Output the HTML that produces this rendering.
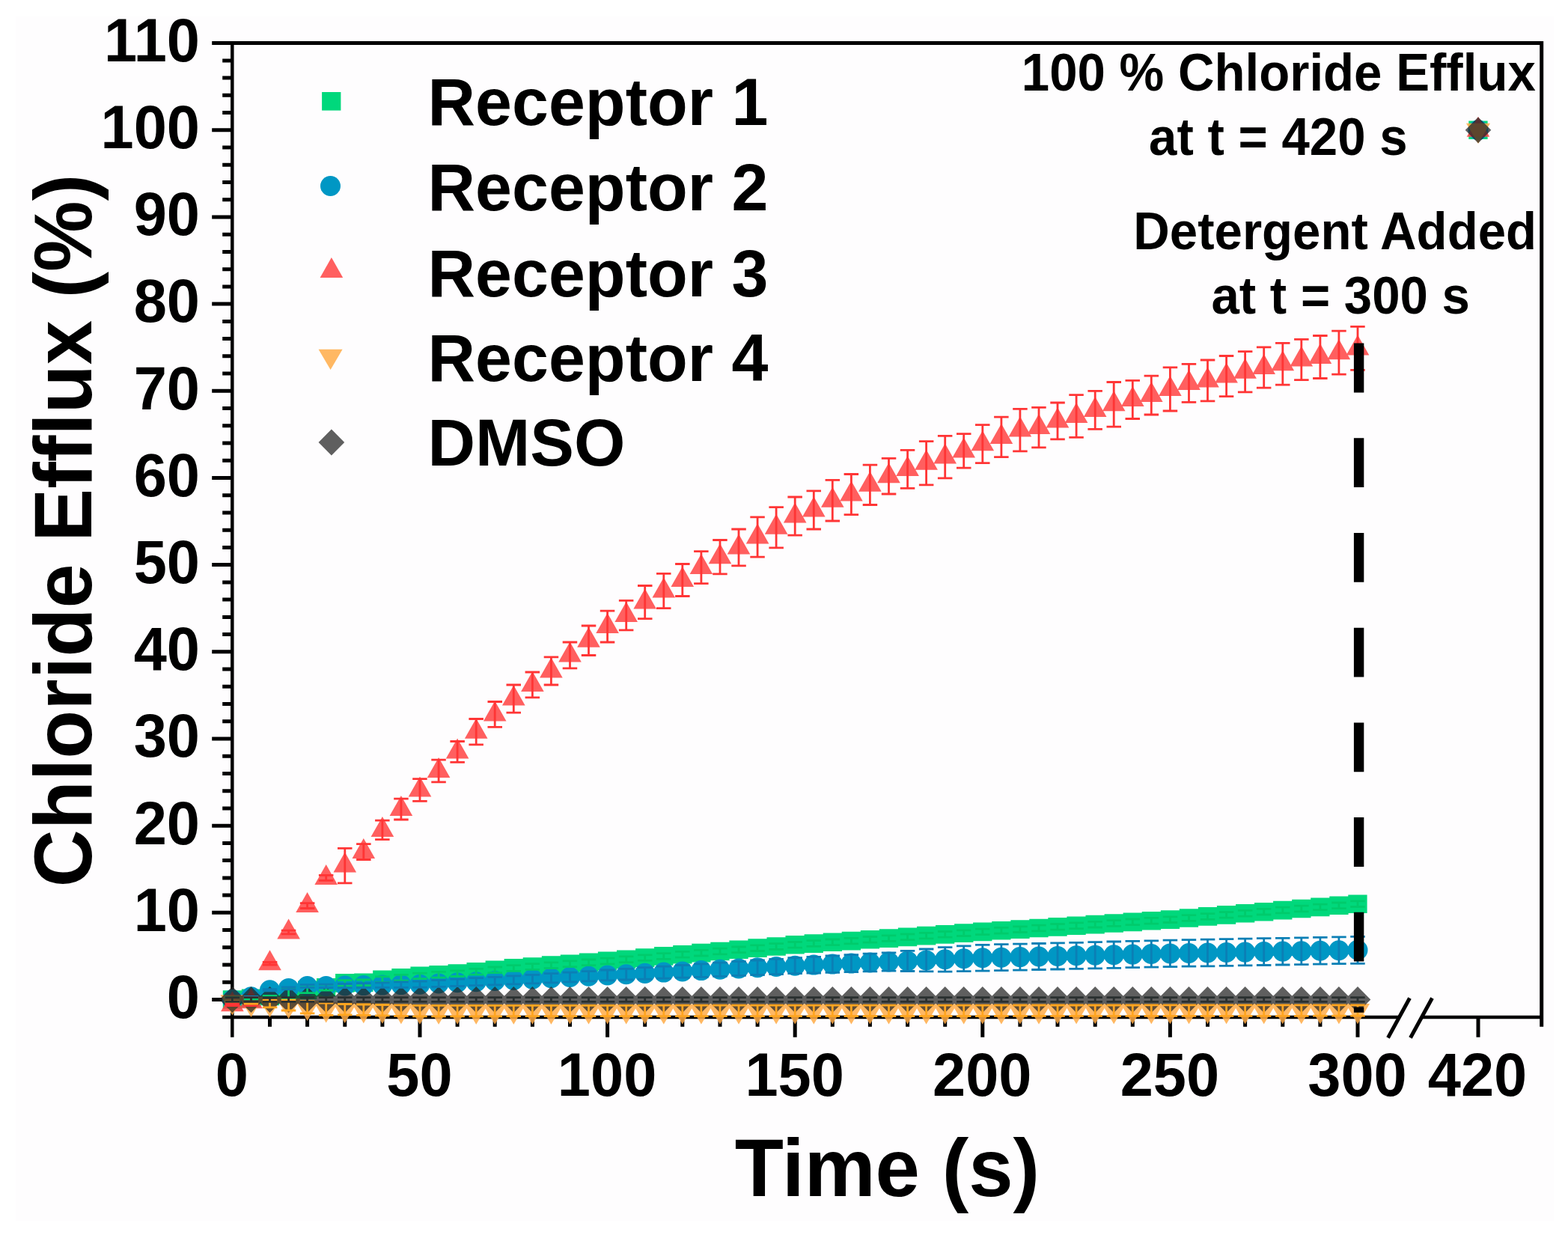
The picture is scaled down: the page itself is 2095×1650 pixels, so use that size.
<!DOCTYPE html>
<html lang="en">
<head>
<meta charset="utf-8">
<title>Chloride Efflux</title>
<style>
html,body{margin:0;padding:0;background:#fff;}
body{width:2095px;height:1650px;overflow:hidden;}
svg{display:block;filter:blur(0.6px);}
</style>
</head>
<body>
<svg width="2095" height="1650" viewBox="0 0 2095 1650" role="img" aria-label="Chloride efflux versus time">
<rect width="2095" height="1650" fill="#fff"/>
<rect x="21" y="22" width="2055" height="1609" fill="#fefdfe"/>
<path d="M283.2 57.6H2062.2M2059.7 57.6V1371.8M283.2 1335.5H310.4M297.2 1312.3H310.4M297.2 1289H310.4M297.2 1265.8H310.4M297.2 1242.6H310.4M283.2 1219.3H310.4M297.2 1196.1H310.4M297.2 1172.9H310.4M297.2 1149.6H310.4M297.2 1126.4H310.4M283.2 1103.2H310.4M297.2 1079.9H310.4M297.2 1056.7H310.4M297.2 1033.5H310.4M297.2 1010.2H310.4M283.2 987H310.4M297.2 963.8H310.4M297.2 940.5H310.4M297.2 917.3H310.4M297.2 894.1H310.4M283.2 870.8H310.4M297.2 847.6H310.4M297.2 824.4H310.4M297.2 801.1H310.4M297.2 777.9H310.4M283.2 754.6H310.4M297.2 731.4H310.4M297.2 708.2H310.4M297.2 684.9H310.4M297.2 661.7H310.4M283.2 638.5H310.4M297.2 615.2H310.4M297.2 592H310.4M297.2 568.8H310.4M297.2 545.5H310.4M283.2 522.3H310.4M297.2 499.1H310.4M297.2 475.8H310.4M297.2 452.6H310.4M297.2 429.4H310.4M283.2 406.1H310.4M297.2 382.9H310.4M297.2 359.7H310.4M297.2 336.4H310.4M297.2 313.2H310.4M283.2 290H310.4M297.2 266.7H310.4M297.2 243.5H310.4M297.2 220.3H310.4M297.2 197H310.4M283.2 173.8H310.4M297.2 150.6H310.4M297.2 127.3H310.4M297.2 104.1H310.4M297.2 80.9H310.4M360.5 1358.7V1371.8M410.6 1358.7V1371.8M460.8 1358.7V1371.8M510.9 1358.7V1371.8M561 1358.7V1385.8M611.1 1358.7V1371.8M661.2 1358.7V1371.8M711.4 1358.7V1371.8M761.5 1358.7V1371.8M811.6 1358.7V1385.8M861.7 1358.7V1371.8M911.8 1358.7V1371.8M962 1358.7V1371.8M1012.1 1358.7V1371.8M1062.2 1358.7V1385.8M1112.3 1358.7V1371.8M1162.4 1358.7V1371.8M1212.6 1358.7V1371.8M1262.7 1358.7V1371.8M1312.8 1358.7V1385.8M1362.9 1358.7V1371.8M1413 1358.7V1371.8M1463.2 1358.7V1371.8M1513.3 1358.7V1371.8M1563.4 1358.7V1385.8M1613.5 1358.7V1371.8M1663.6 1358.7V1371.8M1713.8 1358.7V1371.8M1763.9 1358.7V1371.8M1814 1358.7V1385.8M1975 1358.7V1385.8M1854.5 1386.5L1883.5 1333.5M1884.5 1386.5L1913.5 1333.5" fill="none" stroke="#000" stroke-width="5" stroke-linecap="butt"/>
<path d="M310.3 57.6V1385.8M297.2 1358.9H1869M1899 1358.9H2059.7" fill="none" stroke="#000" stroke-width="4.5"/>
<g>
<path d="M297.8 1323.2h25.3v24.6h-25.3zM322.8 1321.5h25.3v24.6h-25.3zM347.9 1318.6h25.3v24.6h-25.3zM372.9 1314.5h25.3v24.6h-25.3zM398 1310.4h25.3v24.6h-25.3zM423 1306.9h25.3v24.6h-25.3zM448.1 1301.1h25.3v24.6h-25.3zM473.2 1300.5h25.3v24.6h-25.3zM498.2 1296.4h25.3v24.6h-25.3zM523.3 1294h25.3v24.6h-25.3zM548.4 1291.6h25.3v24.6h-25.3zM573.4 1290h25.3v24.6h-25.3zM598.5 1288.3h25.3v24.6h-25.3zM623.5 1285.9h25.3v24.6h-25.3zM648.6 1283.5h25.3v24.6h-25.3zM673.6 1281.1h25.3v24.6h-25.3zM698.7 1279.2h25.3v24.6h-25.3zM723.8 1277.3h25.3v24.6h-25.3zM748.8 1275.4h25.3v24.6h-25.3zM773.9 1273.5h25.3v24.6h-25.3zM798.9 1271.6h25.3v24.6h-25.3zM824 1269.5h25.3v24.6h-25.3zM849.1 1267.3h25.3v24.6h-25.3zM874.1 1265.1h25.3v24.6h-25.3zM899.2 1263h25.3v24.6h-25.3zM924.2 1260.8h25.3v24.6h-25.3zM949.3 1258.7h25.3v24.6h-25.3zM974.4 1256.5h25.3v24.6h-25.3zM999.4 1254.3h25.3v24.6h-25.3zM1024.5 1252.2h25.3v24.6h-25.3zM1049.5 1250h25.3v24.6h-25.3zM1074.6 1248.3h25.3v24.6h-25.3zM1099.7 1246.5h25.3v24.6h-25.3zM1124.7 1244.8h25.3v24.6h-25.3zM1149.8 1243h25.3v24.6h-25.3zM1174.8 1241.3h25.3v24.6h-25.3zM1199.9 1239.6h25.3v24.6h-25.3zM1225 1237.8h25.3v24.6h-25.3zM1250 1236.1h25.3v24.6h-25.3zM1275.1 1234.3h25.3v24.6h-25.3zM1300.1 1232.6h25.3v24.6h-25.3zM1325.2 1231h25.3v24.6h-25.3zM1350.3 1229.3h25.3v24.6h-25.3zM1375.3 1227.7h25.3v24.6h-25.3zM1400.4 1226.1h25.3v24.6h-25.3zM1425.4 1224.5h25.3v24.6h-25.3zM1450.5 1222.8h25.3v24.6h-25.3zM1475.6 1221.2h25.3v24.6h-25.3zM1500.6 1219.6h25.3v24.6h-25.3zM1525.7 1217.9h25.3v24.6h-25.3zM1550.8 1216.3h25.3v24.6h-25.3zM1575.8 1214.2h25.3v24.6h-25.3zM1600.9 1212.1h25.3v24.6h-25.3zM1625.9 1210.1h25.3v24.6h-25.3zM1651 1208h25.3v24.6h-25.3zM1676 1205.9h25.3v24.6h-25.3zM1701.1 1203.8h25.3v24.6h-25.3zM1726.2 1201.7h25.3v24.6h-25.3zM1751.2 1199.6h25.3v24.6h-25.3zM1776.3 1197.5h25.3v24.6h-25.3zM1801.3 1195.4h25.3v24.6h-25.3zM1962.3 161.5h25.3v24.6h-25.3z" fill="#00d87c" fill-rule="nonzero" fill-opacity="1"/>
<path d="M296.9 1335.5a13.5 13.5 0 1 0 27 0a13.5 13.5 0 1 0 -27 0zM322 1331.7a13.5 13.5 0 1 0 27 0a13.5 13.5 0 1 0 -27 0zM347 1322.7a13.5 13.5 0 1 0 27 0a13.5 13.5 0 1 0 -27 0zM372.1 1320.4a13.5 13.5 0 1 0 27 0a13.5 13.5 0 1 0 -27 0zM397.1 1317.5a13.5 13.5 0 1 0 27 0a13.5 13.5 0 1 0 -27 0zM422.2 1317.5a13.5 13.5 0 1 0 27 0a13.5 13.5 0 1 0 -27 0zM447.3 1317a13.5 13.5 0 1 0 27 0a13.5 13.5 0 1 0 -27 0zM472.3 1316.6a13.5 13.5 0 1 0 27 0a13.5 13.5 0 1 0 -27 0zM497.4 1316.1a13.5 13.5 0 1 0 27 0a13.5 13.5 0 1 0 -27 0zM522.4 1315.6a13.5 13.5 0 1 0 27 0a13.5 13.5 0 1 0 -27 0zM547.5 1315.2a13.5 13.5 0 1 0 27 0a13.5 13.5 0 1 0 -27 0zM572.6 1314a13.5 13.5 0 1 0 27 0a13.5 13.5 0 1 0 -27 0zM597.6 1312.8a13.5 13.5 0 1 0 27 0a13.5 13.5 0 1 0 -27 0zM622.7 1311.7a13.5 13.5 0 1 0 27 0a13.5 13.5 0 1 0 -27 0zM647.7 1310.5a13.5 13.5 0 1 0 27 0a13.5 13.5 0 1 0 -27 0zM672.8 1309.4a13.5 13.5 0 1 0 27 0a13.5 13.5 0 1 0 -27 0zM697.9 1308.1a13.5 13.5 0 1 0 27 0a13.5 13.5 0 1 0 -27 0zM722.9 1306.8a13.5 13.5 0 1 0 27 0a13.5 13.5 0 1 0 -27 0zM748 1305.5a13.5 13.5 0 1 0 27 0a13.5 13.5 0 1 0 -27 0zM773 1304.3a13.5 13.5 0 1 0 27 0a13.5 13.5 0 1 0 -27 0zM798.1 1303a13.5 13.5 0 1 0 27 0a13.5 13.5 0 1 0 -27 0zM823.2 1301.7a13.5 13.5 0 1 0 27 0a13.5 13.5 0 1 0 -27 0zM848.2 1300.4a13.5 13.5 0 1 0 27 0a13.5 13.5 0 1 0 -27 0zM873.3 1299.1a13.5 13.5 0 1 0 27 0a13.5 13.5 0 1 0 -27 0zM898.3 1297.9a13.5 13.5 0 1 0 27 0a13.5 13.5 0 1 0 -27 0zM923.4 1296.6a13.5 13.5 0 1 0 27 0a13.5 13.5 0 1 0 -27 0zM948.5 1295.3a13.5 13.5 0 1 0 27 0a13.5 13.5 0 1 0 -27 0zM973.5 1294a13.5 13.5 0 1 0 27 0a13.5 13.5 0 1 0 -27 0zM998.6 1292.7a13.5 13.5 0 1 0 27 0a13.5 13.5 0 1 0 -27 0zM1023.6 1291.5a13.5 13.5 0 1 0 27 0a13.5 13.5 0 1 0 -27 0zM1048.7 1290.2a13.5 13.5 0 1 0 27 0a13.5 13.5 0 1 0 -27 0zM1073.8 1289.1a13.5 13.5 0 1 0 27 0a13.5 13.5 0 1 0 -27 0zM1098.8 1288.1a13.5 13.5 0 1 0 27 0a13.5 13.5 0 1 0 -27 0zM1123.9 1287.1a13.5 13.5 0 1 0 27 0a13.5 13.5 0 1 0 -27 0zM1148.9 1286a13.5 13.5 0 1 0 27 0a13.5 13.5 0 1 0 -27 0zM1174 1285a13.5 13.5 0 1 0 27 0a13.5 13.5 0 1 0 -27 0zM1199.1 1283.9a13.5 13.5 0 1 0 27 0a13.5 13.5 0 1 0 -27 0zM1224.1 1282.9a13.5 13.5 0 1 0 27 0a13.5 13.5 0 1 0 -27 0zM1249.2 1281.8a13.5 13.5 0 1 0 27 0a13.5 13.5 0 1 0 -27 0zM1274.2 1280.8a13.5 13.5 0 1 0 27 0a13.5 13.5 0 1 0 -27 0zM1299.3 1279.7a13.5 13.5 0 1 0 27 0a13.5 13.5 0 1 0 -27 0zM1324.4 1279.2a13.5 13.5 0 1 0 27 0a13.5 13.5 0 1 0 -27 0zM1349.4 1278.6a13.5 13.5 0 1 0 27 0a13.5 13.5 0 1 0 -27 0zM1374.5 1278a13.5 13.5 0 1 0 27 0a13.5 13.5 0 1 0 -27 0zM1399.5 1277.4a13.5 13.5 0 1 0 27 0a13.5 13.5 0 1 0 -27 0zM1424.6 1276.8a13.5 13.5 0 1 0 27 0a13.5 13.5 0 1 0 -27 0zM1449.7 1276.3a13.5 13.5 0 1 0 27 0a13.5 13.5 0 1 0 -27 0zM1474.7 1275.7a13.5 13.5 0 1 0 27 0a13.5 13.5 0 1 0 -27 0zM1499.8 1275.1a13.5 13.5 0 1 0 27 0a13.5 13.5 0 1 0 -27 0zM1524.8 1274.5a13.5 13.5 0 1 0 27 0a13.5 13.5 0 1 0 -27 0zM1549.9 1273.9a13.5 13.5 0 1 0 27 0a13.5 13.5 0 1 0 -27 0zM1575 1273.5a13.5 13.5 0 1 0 27 0a13.5 13.5 0 1 0 -27 0zM1600 1273a13.5 13.5 0 1 0 27 0a13.5 13.5 0 1 0 -27 0zM1625.1 1272.5a13.5 13.5 0 1 0 27 0a13.5 13.5 0 1 0 -27 0zM1650.1 1272.1a13.5 13.5 0 1 0 27 0a13.5 13.5 0 1 0 -27 0zM1675.2 1271.6a13.5 13.5 0 1 0 27 0a13.5 13.5 0 1 0 -27 0zM1700.3 1271.1a13.5 13.5 0 1 0 27 0a13.5 13.5 0 1 0 -27 0zM1725.3 1270.7a13.5 13.5 0 1 0 27 0a13.5 13.5 0 1 0 -27 0zM1750.4 1270.2a13.5 13.5 0 1 0 27 0a13.5 13.5 0 1 0 -27 0zM1775.4 1269.7a13.5 13.5 0 1 0 27 0a13.5 13.5 0 1 0 -27 0zM1800.5 1269.3a13.5 13.5 0 1 0 27 0a13.5 13.5 0 1 0 -27 0zM1961.5 173.8a13.5 13.5 0 1 0 27 0a13.5 13.5 0 1 0 -27 0z" fill="#0097c4" fill-rule="nonzero" fill-opacity="1"/>
<path d="M310.4 1324.3L325.7 1351.3L295.1 1351.3zM335.5 1320.2L350.8 1347.2L320.2 1347.2zM360.5 1269.3L375.8 1296.3L345.2 1296.3zM385.6 1227.5L400.9 1254.5L370.3 1254.5zM410.6 1192L425.9 1219L395.3 1219zM435.7 1154.9L451 1181.9L420.4 1181.9zM460.8 1138.6L476.1 1165.6L445.5 1165.6zM485.8 1120L501.1 1147L470.5 1147zM510.9 1091L526.2 1118L495.6 1118zM535.9 1063.1L551.2 1090.1L520.6 1090.1zM561 1037.5L576.3 1064.5L545.7 1064.5zM586.1 1012L601.4 1039L570.8 1039zM611.1 986.4L626.4 1013.4L595.8 1013.4zM636.2 959.7L651.5 986.7L620.9 986.7zM661.2 936.5L676.5 963.5L645.9 963.5zM686.3 915.6L701.6 942.6L671 942.6zM711.4 897L726.7 924L696.1 924zM736.4 878.4L751.7 905.4L721.1 905.4zM761.5 857.5L776.8 884.5L746.2 884.5zM786.5 837.7L801.8 864.7L771.2 864.7zM811.6 819.1L826.9 846.1L796.3 846.1zM836.7 804L852 831L821.4 831zM861.7 786.6L877 813.6L846.4 813.6zM886.8 771.5L902.1 798.5L871.5 798.5zM911.8 757L927.1 784L896.5 784zM936.9 740.1L952.2 767.1L921.6 767.1zM962 726.2L977.3 753.2L946.7 753.2zM987 713.4L1002.3 740.4L971.7 740.4zM1012.1 699.5L1027.4 726.5L996.8 726.5zM1037.1 686.7L1052.4 713.7L1021.8 713.7zM1062.2 671.6L1077.5 698.6L1046.9 698.6zM1087.3 663.5L1102.6 690.5L1072 690.5zM1112.3 650.7L1127.6 677.7L1097 677.7zM1137.4 642.6L1152.7 669.6L1122.1 669.6zM1162.4 629.8L1177.7 656.8L1147.1 656.8zM1187.5 618.2L1202.8 645.2L1172.2 645.2zM1212.6 608.9L1227.9 635.9L1197.3 635.9zM1237.6 600.7L1252.9 627.7L1222.3 627.7zM1262.7 592.6L1278 619.6L1247.4 619.6zM1287.7 584.5L1303 611.5L1272.4 611.5zM1312.8 575.2L1328.1 602.2L1297.5 602.2zM1337.9 565.9L1353.2 592.9L1322.6 592.9zM1362.9 556.6L1378.2 583.6L1347.6 583.6zM1388 553.1L1403.3 580.1L1372.7 580.1zM1413 544.4L1428.3 571.4L1397.7 571.4zM1438.1 538L1453.4 565L1422.8 565zM1463.2 529.9L1478.5 556.9L1447.9 556.9zM1488.2 522.3L1503.5 549.3L1472.9 549.3zM1513.3 515.9L1528.6 542.9L1498 542.9zM1538.3 510.1L1553.6 537.1L1523 537.1zM1563.4 502L1578.7 529L1548.1 529zM1588.5 493.9L1603.8 520.9L1573.2 520.9zM1613.5 490.4L1628.8 517.4L1598.2 517.4zM1638.6 484.6L1653.9 511.6L1623.3 511.6zM1663.6 478.8L1678.9 505.8L1648.3 505.8zM1688.7 472.9L1704 499.9L1673.4 499.9zM1713.8 468.3L1729.1 495.3L1698.5 495.3zM1738.8 462.5L1754.1 489.5L1723.5 489.5zM1763.9 459L1779.2 486L1748.6 486zM1788.9 453.2L1804.2 480.2L1773.6 480.2zM1814 447.4L1829.3 474.4L1798.7 474.4zM1975 155.8L1990.3 182.8L1959.7 182.8z" fill="#ff4343" fill-rule="nonzero" fill-opacity="0.85"/>
<path d="M310.4 1356.4L326.4 1329.2L294.4 1329.2zM335.5 1359L351.5 1331.8L319.5 1331.8zM360.5 1359.3L376.5 1332.1L344.5 1332.1zM385.6 1361.2L401.6 1334L369.6 1334zM410.6 1363.9L426.6 1336.7L394.6 1336.7zM435.7 1366.4L451.7 1339.2L419.7 1339.2zM460.8 1366.9L476.8 1339.7L444.8 1339.7zM485.8 1367.3L501.8 1340.1L469.8 1340.1zM510.9 1367.8L526.9 1340.6L494.9 1340.6zM535.9 1368.3L551.9 1341.1L519.9 1341.1zM561 1368.7L577 1341.5L545 1341.5zM586.1 1368.7L602.1 1341.5L570.1 1341.5zM611.1 1368.7L627.1 1341.5L595.1 1341.5zM636.2 1368.7L652.2 1341.5L620.2 1341.5zM661.2 1368.7L677.2 1341.5L645.2 1341.5zM686.3 1368.7L702.3 1341.5L670.3 1341.5zM711.4 1368.7L727.4 1341.5L695.4 1341.5zM736.4 1368.7L752.4 1341.5L720.4 1341.5zM761.5 1368.6L777.5 1341.4L745.5 1341.4zM786.5 1368.6L802.5 1341.4L770.5 1341.4zM811.6 1368.6L827.6 1341.4L795.6 1341.4zM836.7 1368.6L852.7 1341.4L820.7 1341.4zM861.7 1368.6L877.7 1341.4L845.7 1341.4zM886.8 1368.6L902.8 1341.4L870.8 1341.4zM911.8 1368.6L927.8 1341.4L895.8 1341.4zM936.9 1368.6L952.9 1341.4L920.9 1341.4zM962 1368.5L978 1341.3L946 1341.3zM987 1368.5L1003 1341.3L971 1341.3zM1012.1 1368.5L1028.1 1341.3L996.1 1341.3zM1037.1 1368.5L1053.1 1341.3L1021.1 1341.3zM1062.2 1368.5L1078.2 1341.3L1046.2 1341.3zM1087.3 1368.5L1103.3 1341.3L1071.3 1341.3zM1112.3 1368.5L1128.3 1341.3L1096.3 1341.3zM1137.4 1368.5L1153.4 1341.3L1121.4 1341.3zM1162.4 1368.5L1178.4 1341.3L1146.4 1341.3zM1187.5 1368.4L1203.5 1341.2L1171.5 1341.2zM1212.6 1368.4L1228.6 1341.2L1196.6 1341.2zM1237.6 1368.4L1253.6 1341.2L1221.6 1341.2zM1262.7 1368.4L1278.7 1341.2L1246.7 1341.2zM1287.7 1368.4L1303.7 1341.2L1271.7 1341.2zM1312.8 1368.4L1328.8 1341.2L1296.8 1341.2zM1337.9 1368.4L1353.9 1341.2L1321.9 1341.2zM1362.9 1368.4L1378.9 1341.2L1346.9 1341.2zM1388 1368.4L1404 1341.2L1372 1341.2zM1413 1368.3L1429 1341.1L1397 1341.1zM1438.1 1368.3L1454.1 1341.1L1422.1 1341.1zM1463.2 1368.3L1479.2 1341.1L1447.2 1341.1zM1488.2 1368.3L1504.2 1341.1L1472.2 1341.1zM1513.3 1368.3L1529.3 1341.1L1497.3 1341.1zM1538.3 1368.3L1554.3 1341.1L1522.3 1341.1zM1563.4 1368.3L1579.4 1341.1L1547.4 1341.1zM1588.5 1368.3L1604.5 1341.1L1572.5 1341.1zM1613.5 1368.2L1629.5 1341L1597.5 1341zM1638.6 1368.2L1654.6 1341L1622.6 1341zM1663.6 1368.2L1679.6 1341L1647.6 1341zM1688.7 1368.2L1704.7 1341L1672.7 1341zM1713.8 1368.2L1729.8 1341L1697.8 1341zM1738.8 1368.2L1754.8 1341L1722.8 1341zM1763.9 1368.2L1779.9 1341L1747.9 1341zM1788.9 1368.2L1804.9 1341L1772.9 1341zM1814 1368.2L1830 1341L1798 1341zM1975 191.9L1991 164.7L1959 164.7z" fill="#ffac48" fill-rule="nonzero" fill-opacity="0.85"/>
<path d="M310.4 1318.1L327.7 1335.5L310.4 1352.9L293.1 1335.5zM335.5 1318.1L352.8 1335.5L335.5 1352.9L318.2 1335.5zM360.5 1318.1L377.8 1335.5L360.5 1352.9L343.2 1335.5zM385.6 1318.1L402.9 1335.5L385.6 1352.9L368.3 1335.5zM410.6 1318.1L427.9 1335.5L410.6 1352.9L393.3 1335.5zM435.7 1318.1L453 1335.5L435.7 1352.9L418.4 1335.5zM460.8 1318.1L478.1 1335.5L460.8 1352.9L443.5 1335.5zM485.8 1318.1L503.1 1335.5L485.8 1352.9L468.5 1335.5zM510.9 1318.1L528.2 1335.5L510.9 1352.9L493.6 1335.5zM535.9 1318.1L553.2 1335.5L535.9 1352.9L518.6 1335.5zM561 1318.1L578.3 1335.5L561 1352.9L543.7 1335.5zM586.1 1318.1L603.4 1335.5L586.1 1352.9L568.8 1335.5zM611.1 1318.1L628.4 1335.5L611.1 1352.9L593.8 1335.5zM636.2 1318.1L653.5 1335.5L636.2 1352.9L618.9 1335.5zM661.2 1318.1L678.5 1335.5L661.2 1352.9L643.9 1335.5zM686.3 1318.1L703.6 1335.5L686.3 1352.9L669 1335.5zM711.4 1318.1L728.7 1335.5L711.4 1352.9L694.1 1335.5zM736.4 1318.1L753.7 1335.5L736.4 1352.9L719.1 1335.5zM761.5 1318.1L778.8 1335.5L761.5 1352.9L744.2 1335.5zM786.5 1318.1L803.8 1335.5L786.5 1352.9L769.2 1335.5zM811.6 1318.1L828.9 1335.5L811.6 1352.9L794.3 1335.5zM836.7 1318.1L854 1335.5L836.7 1352.9L819.4 1335.5zM861.7 1318.1L879 1335.5L861.7 1352.9L844.4 1335.5zM886.8 1318.1L904.1 1335.5L886.8 1352.9L869.5 1335.5zM911.8 1318.1L929.1 1335.5L911.8 1352.9L894.5 1335.5zM936.9 1318.1L954.2 1335.5L936.9 1352.9L919.6 1335.5zM962 1318.1L979.3 1335.5L962 1352.9L944.7 1335.5zM987 1318.1L1004.3 1335.5L987 1352.9L969.7 1335.5zM1012.1 1318.1L1029.4 1335.5L1012.1 1352.9L994.8 1335.5zM1037.1 1318.1L1054.4 1335.5L1037.1 1352.9L1019.8 1335.5zM1062.2 1318.1L1079.5 1335.5L1062.2 1352.9L1044.9 1335.5zM1087.3 1318.1L1104.6 1335.5L1087.3 1352.9L1070 1335.5zM1112.3 1318.1L1129.6 1335.5L1112.3 1352.9L1095 1335.5zM1137.4 1318.1L1154.7 1335.5L1137.4 1352.9L1120.1 1335.5zM1162.4 1318.1L1179.7 1335.5L1162.4 1352.9L1145.1 1335.5zM1187.5 1318.1L1204.8 1335.5L1187.5 1352.9L1170.2 1335.5zM1212.6 1318.1L1229.9 1335.5L1212.6 1352.9L1195.3 1335.5zM1237.6 1318.1L1254.9 1335.5L1237.6 1352.9L1220.3 1335.5zM1262.7 1318.1L1280 1335.5L1262.7 1352.9L1245.4 1335.5zM1287.7 1318.1L1305 1335.5L1287.7 1352.9L1270.4 1335.5zM1312.8 1318.1L1330.1 1335.5L1312.8 1352.9L1295.5 1335.5zM1337.9 1318.1L1355.2 1335.5L1337.9 1352.9L1320.6 1335.5zM1362.9 1318.1L1380.2 1335.5L1362.9 1352.9L1345.6 1335.5zM1388 1318.1L1405.3 1335.5L1388 1352.9L1370.7 1335.5zM1413 1318.1L1430.3 1335.5L1413 1352.9L1395.7 1335.5zM1438.1 1318.1L1455.4 1335.5L1438.1 1352.9L1420.8 1335.5zM1463.2 1318.1L1480.5 1335.5L1463.2 1352.9L1445.9 1335.5zM1488.2 1318.1L1505.5 1335.5L1488.2 1352.9L1470.9 1335.5zM1513.3 1318.1L1530.6 1335.5L1513.3 1352.9L1496 1335.5zM1538.3 1318.1L1555.6 1335.5L1538.3 1352.9L1521 1335.5zM1563.4 1318.1L1580.7 1335.5L1563.4 1352.9L1546.1 1335.5zM1588.5 1318.1L1605.8 1335.5L1588.5 1352.9L1571.2 1335.5zM1613.5 1318.1L1630.8 1335.5L1613.5 1352.9L1596.2 1335.5zM1638.6 1318.1L1655.9 1335.5L1638.6 1352.9L1621.3 1335.5zM1663.6 1318.1L1680.9 1335.5L1663.6 1352.9L1646.3 1335.5zM1688.7 1318.1L1706 1335.5L1688.7 1352.9L1671.4 1335.5zM1713.8 1318.1L1731.1 1335.5L1713.8 1352.9L1696.5 1335.5zM1738.8 1318.1L1756.1 1335.5L1738.8 1352.9L1721.5 1335.5zM1763.9 1318.1L1781.2 1335.5L1763.9 1352.9L1746.6 1335.5zM1788.9 1318.1L1806.2 1335.5L1788.9 1352.9L1771.6 1335.5zM1814 1318.1L1831.3 1335.5L1814 1352.9L1796.7 1335.5zM1975 156.4L1992.3 173.8L1975 191.2L1957.7 173.8z" fill="#232323" fill-rule="nonzero" fill-opacity="0.73"/>
<path d="M310.4 1332.7V1338.3M300.6 1332.7h19.5M300.6 1338.3h19.5M335.5 1332.6V1334.9M325.7 1332.6h19.5M325.7 1334.9h19.5M360.5 1330.3V1331.4M350.8 1330.3h19.5M350.8 1331.4h19.5M385.6 1319.8V1333.8M375.8 1319.8h19.5M375.8 1333.8h19.5M410.6 1318.9V1326.6M400.9 1318.9h19.5M400.9 1326.6h19.5M435.7 1315.4V1323.1M425.9 1315.4h19.5M425.9 1323.1h19.5M460.8 1309.6V1317.3M451 1309.6h19.5M451 1317.3h19.5M485.8 1309V1316.7M476.1 1309h19.5M476.1 1316.7h19.5M510.9 1304.8V1312.5M501.1 1304.8h19.5M501.1 1312.5h19.5M535.9 1302.4V1310.1M526.2 1302.4h19.5M526.2 1310.1h19.5M561 1300.1V1307.7M551.2 1300.1h19.5M551.2 1307.7h19.5M586.1 1298.4V1306.1M576.3 1298.4h19.5M576.3 1306.1h19.5M611.1 1296.8V1304.5M601.4 1296.8h19.5M601.4 1304.5h19.5M636.2 1294.4V1302.1M626.4 1294.4h19.5M626.4 1302.1h19.5M661.2 1292V1299.7M651.5 1292h19.5M651.5 1299.7h19.5M686.3 1289.6V1297.3M676.5 1289.6h19.5M676.5 1297.3h19.5M711.4 1287.7V1295.4M701.6 1287.7h19.5M701.6 1295.4h19.5M736.4 1285.8V1293.5M726.7 1285.8h19.5M726.7 1293.5h19.5M761.5 1283.9V1291.6M751.7 1283.9h19.5M751.7 1291.6h19.5M786.5 1282V1289.7M776.8 1282h19.5M776.8 1289.7h19.5M811.6 1280.1V1287.8M801.8 1280.1h19.5M801.8 1287.8h19.5M836.7 1277.9V1285.6M826.9 1277.9h19.5M826.9 1285.6h19.5M861.7 1275.8V1283.4M852 1275.8h19.5M852 1283.4h19.5M886.8 1273.6V1281.3M877 1273.6h19.5M877 1281.3h19.5M911.8 1271.4V1279.1M902.1 1271.4h19.5M902.1 1279.1h19.5M936.9 1269.3V1277M927.1 1269.3h19.5M927.1 1277h19.5M962 1267.1V1274.8M952.2 1267.1h19.5M952.2 1274.8h19.5M987 1265V1272.6M977.3 1265h19.5M977.3 1272.6h19.5M1012.1 1262.8V1270.5M1002.3 1262.8h19.5M1002.3 1270.5h19.5M1037.1 1260.6V1268.3M1027.4 1260.6h19.5M1027.4 1268.3h19.5M1062.2 1258.5V1266.1M1052.4 1258.5h19.5M1052.4 1266.1h19.5M1087.3 1256.7V1264.4M1077.5 1256.7h19.5M1077.5 1264.4h19.5M1112.3 1255V1262.7M1102.6 1255h19.5M1102.6 1262.7h19.5M1137.4 1253.3V1260.9M1127.6 1253.3h19.5M1127.6 1260.9h19.5M1162.4 1251.5V1259.2M1152.7 1251.5h19.5M1152.7 1259.2h19.5M1187.5 1249.8V1257.4M1177.8 1249.8h19.5M1177.8 1257.4h19.5M1212.6 1248V1255.7M1202.8 1248h19.5M1202.8 1255.7h19.5M1237.6 1246.3V1253.9M1227.9 1246.3h19.5M1227.9 1253.9h19.5M1262.7 1244.5V1252.2M1252.9 1244.5h19.5M1252.9 1252.2h19.5M1287.7 1242.8V1250.5M1278 1242.8h19.5M1278 1250.5h19.5M1312.8 1241.1V1248.7M1303 1241.1h19.5M1303 1248.7h19.5M1337.9 1239.4V1247.1M1328.1 1239.4h19.5M1328.1 1247.1h19.5M1362.9 1237.8V1245.5M1353.2 1237.8h19.5M1353.2 1245.5h19.5M1388 1236.2V1243.8M1378.2 1236.2h19.5M1378.2 1243.8h19.5M1413 1234.5V1242.2M1403.3 1234.5h19.5M1403.3 1242.2h19.5M1438.1 1232.9V1240.6M1428.3 1232.9h19.5M1428.3 1240.6h19.5M1463.2 1231.3V1239M1453.4 1231.3h19.5M1453.4 1239h19.5M1488.2 1229.7V1237.3M1478.5 1229.7h19.5M1478.5 1237.3h19.5M1513.3 1228V1235.7M1503.5 1228h19.5M1503.5 1235.7h19.5M1538.3 1226.4V1234.1M1528.6 1226.4h19.5M1528.6 1234.1h19.5M1563.4 1224.8V1232.5M1553.7 1224.8h19.5M1553.7 1232.5h19.5M1588.5 1222.7V1230.4M1578.7 1222.7h19.5M1578.7 1230.4h19.5M1613.5 1220.6V1228.3M1603.8 1220.6h19.5M1603.8 1228.3h19.5M1638.6 1218.5V1226.2M1628.8 1218.5h19.5M1628.8 1226.2h19.5M1663.6 1216.4V1224.1M1653.9 1216.4h19.5M1653.9 1224.1h19.5M1688.7 1214.3V1222M1678.9 1214.3h19.5M1678.9 1222h19.5M1713.8 1212.2V1219.9M1704 1212.2h19.5M1704 1219.9h19.5M1738.8 1210.2V1217.8M1729.1 1210.2h19.5M1729.1 1217.8h19.5M1763.9 1208.1V1215.7M1754.1 1208.1h19.5M1754.1 1215.7h19.5M1788.9 1206V1213.6M1779.2 1206h19.5M1779.2 1213.6h19.5M1814 1203.9V1211.5M1804.2 1203.9h19.5M1804.2 1211.5h19.5" fill="none" stroke="#00cb6c" stroke-width="2.8"/>
<path d="M335.5 1331.3V1332M325.7 1331.3h19.5M325.7 1332h19.5M360.5 1321.6V1323.9M350.8 1321.6h19.5M350.8 1323.9h19.5M385.6 1318.9V1321.9M375.8 1318.9h19.5M375.8 1321.9h19.5M410.6 1315.6V1319.4M400.9 1315.6h19.5M400.9 1319.4h19.5M435.7 1315.2V1319.7M425.9 1315.2h19.5M425.9 1319.7h19.5M460.8 1314.4V1319.6M451 1314.4h19.5M451 1319.6h19.5M485.8 1313.6V1319.5M476.1 1313.6h19.5M476.1 1319.5h19.5M510.9 1312.8V1319.4M501.1 1312.8h19.5M501.1 1319.4h19.5M535.9 1311.9V1319.3M526.2 1311.9h19.5M526.2 1319.3h19.5M561 1311.1V1319.2M551.2 1311.1h19.5M551.2 1319.2h19.5M586.1 1309.7V1318.4M576.3 1309.7h19.5M576.3 1318.4h19.5M611.1 1308.2V1317.5M601.4 1308.2h19.5M601.4 1317.5h19.5M636.2 1306.7V1316.6M626.4 1306.7h19.5M626.4 1316.6h19.5M661.2 1305.3V1315.8M651.5 1305.3h19.5M651.5 1315.8h19.5M686.3 1303.8V1314.9M676.5 1303.8h19.5M676.5 1314.9h19.5M711.4 1302.3V1313.9M701.6 1302.3h19.5M701.6 1313.9h19.5M736.4 1300.7V1312.9M726.7 1300.7h19.5M726.7 1312.9h19.5M761.5 1299.1V1311.9M751.7 1299.1h19.5M751.7 1311.9h19.5M786.5 1297.6V1310.9M776.8 1297.6h19.5M776.8 1310.9h19.5M811.6 1296V1309.9M801.8 1296h19.5M801.8 1309.9h19.5M836.7 1294.4V1309M826.9 1294.4h19.5M826.9 1309h19.5M861.7 1292.7V1308.1M852 1292.7h19.5M852 1308.1h19.5M886.8 1291.1V1307.2M877 1291.1h19.5M877 1307.2h19.5M911.8 1289.5V1306.2M902.1 1289.5h19.5M902.1 1306.2h19.5M936.9 1287.9V1305.3M927.1 1287.9h19.5M927.1 1305.3h19.5M962 1286.2V1304.4M952.2 1286.2h19.5M952.2 1304.4h19.5M987 1284.6V1303.4M977.3 1284.6h19.5M977.3 1303.4h19.5M1012.1 1283V1302.5M1002.3 1283h19.5M1002.3 1302.5h19.5M1037.1 1281.4V1301.6M1027.4 1281.4h19.5M1027.4 1301.6h19.5M1062.2 1279.7V1300.6M1052.4 1279.7h19.5M1052.4 1300.6h19.5M1087.3 1278.3V1300M1077.5 1278.3h19.5M1077.5 1300h19.5M1112.3 1277V1299.3M1102.6 1277h19.5M1102.6 1299.3h19.5M1137.4 1275.6V1298.6M1127.6 1275.6h19.5M1127.6 1298.6h19.5M1162.4 1274.2V1297.9M1152.7 1274.2h19.5M1152.7 1297.9h19.5M1187.5 1272.8V1297.2M1177.8 1272.8h19.5M1177.8 1297.2h19.5M1212.6 1270.4V1297.5M1202.8 1270.4h19.5M1202.8 1297.5h19.5M1237.6 1268V1297.8M1227.9 1268h19.5M1227.9 1297.8h19.5M1262.7 1265.6V1298.1M1252.9 1265.6h19.5M1252.9 1298.1h19.5M1287.7 1263.9V1297.6M1278 1263.9h19.5M1278 1297.6h19.5M1312.8 1262.3V1297.2M1303 1262.3h19.5M1303 1297.2h19.5M1337.9 1261.7V1296.6M1328.1 1261.7h19.5M1328.1 1296.6h19.5M1362.9 1261.1V1296.1M1353.2 1261.1h19.5M1353.2 1296.1h19.5M1388 1260.5V1295.5M1378.2 1260.5h19.5M1378.2 1295.5h19.5M1413 1259.9V1295M1403.3 1259.9h19.5M1403.3 1295h19.5M1438.1 1259.3V1294.4M1428.3 1259.3h19.5M1428.3 1294.4h19.5M1463.2 1258.7V1293.9M1453.4 1258.7h19.5M1453.4 1293.9h19.5M1488.2 1258V1293.3M1478.5 1258h19.5M1478.5 1293.3h19.5M1513.3 1257.4V1292.7M1503.5 1257.4h19.5M1503.5 1292.7h19.5M1538.3 1256.8V1292.2M1528.6 1256.8h19.5M1528.6 1292.2h19.5M1563.4 1256.2V1291.6M1553.7 1256.2h19.5M1553.7 1291.6h19.5M1588.5 1255.7V1291.2M1578.7 1255.7h19.5M1578.7 1291.2h19.5M1613.5 1255.2V1290.8M1603.8 1255.2h19.5M1603.8 1290.8h19.5M1638.6 1254.7V1290.3M1628.8 1254.7h19.5M1628.8 1290.3h19.5M1663.6 1254.2V1289.9M1653.9 1254.2h19.5M1653.9 1289.9h19.5M1688.7 1253.7V1289.5M1678.9 1253.7h19.5M1678.9 1289.5h19.5M1713.8 1253.3V1289M1704 1253.3h19.5M1704 1289h19.5M1738.8 1252.8V1288.6M1729.1 1252.8h19.5M1729.1 1288.6h19.5M1763.9 1252.3V1288.2M1754.1 1252.3h19.5M1754.1 1288.2h19.5M1788.9 1251.8V1287.7M1779.2 1251.8h19.5M1779.2 1287.7h19.5M1814 1251.3V1287.3M1804.2 1251.3h19.5M1804.2 1287.3h19.5" fill="none" stroke="#0b7fb5" stroke-width="2.8"/>
<path d="M310.4 1341V1343.6M300.6 1341h19.5M300.6 1343.6h19.5M335.5 1332.7V1343.6M325.7 1332.7h19.5M325.7 1343.6h19.5M360.5 1285.5V1289M350.8 1285.5h19.5M350.8 1289h19.5M385.6 1243.1V1247.8M375.8 1243.1h19.5M375.8 1247.8h19.5M410.6 1206.6V1213.5M400.9 1206.6h19.5M400.9 1213.5h19.5M435.7 1169.4V1176.3M425.9 1169.4h19.5M425.9 1176.3h19.5M460.8 1133.4V1179.8M451 1133.4h19.5M451 1179.8h19.5M485.8 1127.6V1148.5M476.1 1127.6h19.5M476.1 1148.5h19.5M510.9 1096.2V1121.7M501.1 1096.2h19.5M501.1 1121.7h19.5M535.9 1067.1V1095M526.2 1067.1h19.5M526.2 1095h19.5M561 1040.7V1070.4M551.2 1040.7h19.5M551.2 1070.4h19.5M586.1 1015.1V1044.8M576.3 1015.1h19.5M576.3 1044.8h19.5M611.1 990.5V1018.4M601.4 990.5h19.5M601.4 1018.4h19.5M636.2 960.5V994.9M626.4 960.5h19.5M626.4 994.9h19.5M661.2 937.5V971.4M651.5 937.5h19.5M651.5 971.4h19.5M686.3 915V952.1M676.5 915h19.5M676.5 952.1h19.5M711.4 898V931.9M701.6 898h19.5M701.6 931.9h19.5M736.4 877.8V915M726.7 877.8h19.5M726.7 915h19.5M761.5 858V892.9M751.7 858h19.5M751.7 892.9h19.5M786.5 836V875.5M776.8 836h19.5M776.8 875.5h19.5M811.6 816.2V858M801.8 816.2h19.5M801.8 858h19.5M836.7 802.3V841.8M826.9 802.3h19.5M826.9 841.8h19.5M861.7 782.5V826.7M852 782.5h19.5M852 826.7h19.5M886.8 766.3V812.7M877 766.3h19.5M877 812.7h19.5M911.8 753.5V796.5M902.1 753.5h19.5M902.1 796.5h19.5M936.9 736.6V779.6M927.1 736.6h19.5M927.1 779.6h19.5M962 721.5V766.8M952.2 721.5h19.5M952.2 766.8h19.5M987 707V755.8M977.3 707h19.5M977.3 755.8h19.5M1012.1 690.8V744.2M1002.3 690.8h19.5M1002.3 744.2h19.5M1037.1 677.6V731.8M1027.4 677.6h19.5M1027.4 731.8h19.5M1062.2 664V715.2M1052.4 664h19.5M1052.4 715.2h19.5M1087.3 655.9V707M1077.5 655.9h19.5M1077.5 707h19.5M1112.3 641.4V696M1102.6 641.4h19.5M1102.6 696h19.5M1137.4 633.5V687.6M1127.6 633.5h19.5M1127.6 687.6h19.5M1162.4 621.1V674.5M1152.7 621.1h19.5M1152.7 674.5h19.5M1187.5 612.3V660M1177.8 612.3h19.5M1177.8 660h19.5M1212.6 601.3V652.4M1202.8 601.3h19.5M1202.8 652.4h19.5M1237.6 589.7V647.8M1227.9 589.7h19.5M1227.9 647.8h19.5M1262.7 582.3V638.9M1252.9 582.3h19.5M1252.9 638.9h19.5M1287.7 579.7V625.2M1278 579.7h19.5M1278 625.2h19.5M1312.8 567.6V618.7M1303 567.6h19.5M1303 618.7h19.5M1337.9 557.2V610.6M1328.1 557.2h19.5M1328.1 610.6h19.5M1362.9 546.4V602.8M1353.2 546.4h19.5M1353.2 602.8h19.5M1388 544.4V597.8M1378.2 544.4h19.5M1378.2 597.8h19.5M1413 538V586.8M1403.3 538h19.5M1403.3 586.8h19.5M1438.1 527.7V584.3M1428.3 527.7h19.5M1428.3 584.3h19.5M1463.2 522.3V573.4M1453.4 522.3h19.5M1453.4 573.4h19.5M1488.2 510.5V570.2M1478.5 510.5h19.5M1478.5 570.2h19.5M1513.3 508.4V559.5M1503.5 508.4h19.5M1503.5 559.5h19.5M1538.3 502.2V554M1528.6 502.2h19.5M1528.6 554h19.5M1563.4 490.9V549M1553.7 490.9h19.5M1553.7 549h19.5M1588.5 486.3V537.4M1578.7 486.3h19.5M1578.7 537.4h19.5M1613.5 481V535.8M1603.8 481h19.5M1603.8 535.8h19.5M1638.6 475.5V529.6M1628.8 475.5h19.5M1628.8 529.6h19.5M1663.6 469.7V523.8M1653.9 469.7h19.5M1653.9 523.8h19.5M1688.7 463.8V518.1M1678.9 463.8h19.5M1678.9 518.1h19.5M1713.8 458.4V514.2M1704 458.4h19.5M1704 514.2h19.5M1738.8 453.3V507.7M1729.1 453.3h19.5M1729.1 507.7h19.5M1763.9 448.5V505.5M1754.1 448.5h19.5M1754.1 505.5h19.5M1788.9 442.2V500.2M1779.2 442.2h19.5M1779.2 500.2h19.5M1814 436.3V494.4M1804.2 436.3h19.5M1804.2 494.4h19.5" fill="none" stroke="#ff3535" stroke-width="2.8"/>
<path d="M310.4 1338.1V1338.5M300.6 1338.1h19.5M300.6 1338.5h19.5M335.5 1340.6V1341.1M325.7 1340.6h19.5M325.7 1341.1h19.5M360.5 1336.5V1345.8M350.8 1336.5h19.5M350.8 1345.8h19.5M385.6 1336.1V1350M375.8 1336.1h19.5M375.8 1350h19.5M410.6 1337.6V1353.9M400.9 1337.6h19.5M400.9 1353.9h19.5M435.7 1340.1V1356.4M425.9 1340.1h19.5M425.9 1356.4h19.5M460.8 1341.5V1355.9M451 1341.5h19.5M451 1355.9h19.5M485.8 1342V1356.4M476.1 1342h19.5M476.1 1356.4h19.5M510.9 1342.5V1356.9M501.1 1342.5h19.5M501.1 1356.9h19.5M535.9 1342.9V1357.3M526.2 1342.9h19.5M526.2 1357.3h19.5M561 1343.4V1357.8M551.2 1343.4h19.5M551.2 1357.8h19.5M586.1 1343.4V1357.8M576.3 1343.4h19.5M576.3 1357.8h19.5M611.1 1343.4V1357.8M601.4 1343.4h19.5M601.4 1357.8h19.5M636.2 1343.4V1357.8M626.4 1343.4h19.5M626.4 1357.8h19.5M661.2 1343.4V1357.8M651.5 1343.4h19.5M651.5 1357.8h19.5M686.3 1343.3V1357.7M676.5 1343.3h19.5M676.5 1357.7h19.5M711.4 1343.3V1357.7M701.6 1343.3h19.5M701.6 1357.7h19.5M736.4 1343.3V1357.7M726.7 1343.3h19.5M726.7 1357.7h19.5M761.5 1343.3V1357.7M751.7 1343.3h19.5M751.7 1357.7h19.5M786.5 1343.3V1357.7M776.8 1343.3h19.5M776.8 1357.7h19.5M811.6 1343.3V1357.7M801.8 1343.3h19.5M801.8 1357.7h19.5M836.7 1343.3V1357.7M826.9 1343.3h19.5M826.9 1357.7h19.5M861.7 1343.3V1357.7M852 1343.3h19.5M852 1357.7h19.5M886.8 1343.2V1357.7M877 1343.2h19.5M877 1357.7h19.5M911.8 1343.2V1357.6M902.1 1343.2h19.5M902.1 1357.6h19.5M936.9 1343.2V1357.6M927.1 1343.2h19.5M927.1 1357.6h19.5M962 1343.2V1357.6M952.2 1343.2h19.5M952.2 1357.6h19.5M987 1343.2V1357.6M977.3 1343.2h19.5M977.3 1357.6h19.5M1012.1 1343.2V1357.6M1002.3 1343.2h19.5M1002.3 1357.6h19.5M1037.1 1343.2V1357.6M1027.4 1343.2h19.5M1027.4 1357.6h19.5M1062.2 1343.2V1357.6M1052.4 1343.2h19.5M1052.4 1357.6h19.5M1087.3 1343.2V1357.6M1077.5 1343.2h19.5M1077.5 1357.6h19.5M1112.3 1343.1V1357.5M1102.6 1343.1h19.5M1102.6 1357.5h19.5M1137.4 1343.1V1357.5M1127.6 1343.1h19.5M1127.6 1357.5h19.5M1162.4 1343.1V1357.5M1152.7 1343.1h19.5M1152.7 1357.5h19.5M1187.5 1343.1V1357.5M1177.8 1343.1h19.5M1177.8 1357.5h19.5M1212.6 1343.1V1357.5M1202.8 1343.1h19.5M1202.8 1357.5h19.5M1237.6 1343.1V1357.5M1227.9 1343.1h19.5M1227.9 1357.5h19.5M1262.7 1343.1V1357.5M1252.9 1343.1h19.5M1252.9 1357.5h19.5M1287.7 1343.1V1357.5M1278 1343.1h19.5M1278 1357.5h19.5M1312.8 1343.1V1357.5M1303 1343.1h19.5M1303 1357.5h19.5M1337.9 1343V1357.4M1328.1 1343h19.5M1328.1 1357.4h19.5M1362.9 1343V1357.4M1353.2 1343h19.5M1353.2 1357.4h19.5M1388 1343V1357.4M1378.2 1343h19.5M1378.2 1357.4h19.5M1413 1343V1357.4M1403.3 1343h19.5M1403.3 1357.4h19.5M1438.1 1343V1357.4M1428.3 1343h19.5M1428.3 1357.4h19.5M1463.2 1343V1357.4M1453.4 1343h19.5M1453.4 1357.4h19.5M1488.2 1343V1357.4M1478.5 1343h19.5M1478.5 1357.4h19.5M1513.3 1343V1357.4M1503.5 1343h19.5M1503.5 1357.4h19.5M1538.3 1342.9V1357.4M1528.6 1342.9h19.5M1528.6 1357.4h19.5M1563.4 1342.9V1357.3M1553.7 1342.9h19.5M1553.7 1357.3h19.5M1588.5 1342.9V1357.3M1578.7 1342.9h19.5M1578.7 1357.3h19.5M1613.5 1342.9V1357.3M1603.8 1342.9h19.5M1603.8 1357.3h19.5M1638.6 1342.9V1357.3M1628.8 1342.9h19.5M1628.8 1357.3h19.5M1663.6 1342.9V1357.3M1653.9 1342.9h19.5M1653.9 1357.3h19.5M1688.7 1342.9V1357.3M1678.9 1342.9h19.5M1678.9 1357.3h19.5M1713.8 1342.9V1357.3M1704 1342.9h19.5M1704 1357.3h19.5M1738.8 1342.9V1357.3M1729.1 1342.9h19.5M1729.1 1357.3h19.5M1763.9 1342.8V1357.2M1754.1 1342.8h19.5M1754.1 1357.2h19.5M1788.9 1342.8V1357.2M1779.2 1342.8h19.5M1779.2 1357.2h19.5M1814 1342.8V1357.2M1804.2 1342.8h19.5M1804.2 1357.2h19.5" fill="none" stroke="#ffa520" stroke-width="2.8"/>
<path d="M310.4 1332.7V1338.3M300.6 1332.7h19.5M300.6 1338.3h19.5M335.5 1332.7V1338.3M325.7 1332.7h19.5M325.7 1338.3h19.5M360.5 1332.7V1338.3M350.8 1332.7h19.5M350.8 1338.3h19.5M385.6 1332.7V1338.3M375.8 1332.7h19.5M375.8 1338.3h19.5M410.6 1332.7V1338.3M400.9 1332.7h19.5M400.9 1338.3h19.5M435.7 1332.7V1338.3M425.9 1332.7h19.5M425.9 1338.3h19.5M460.8 1332.7V1338.3M451 1332.7h19.5M451 1338.3h19.5M485.8 1332.7V1338.3M476.1 1332.7h19.5M476.1 1338.3h19.5M510.9 1332.7V1338.3M501.1 1332.7h19.5M501.1 1338.3h19.5M535.9 1332.7V1338.3M526.2 1332.7h19.5M526.2 1338.3h19.5M561 1332.7V1338.3M551.2 1332.7h19.5M551.2 1338.3h19.5M586.1 1332.7V1338.3M576.3 1332.7h19.5M576.3 1338.3h19.5M611.1 1332.7V1338.3M601.4 1332.7h19.5M601.4 1338.3h19.5M636.2 1332.7V1338.3M626.4 1332.7h19.5M626.4 1338.3h19.5M661.2 1332.7V1338.3M651.5 1332.7h19.5M651.5 1338.3h19.5M686.3 1332.7V1338.3M676.5 1332.7h19.5M676.5 1338.3h19.5M711.4 1332.7V1338.3M701.6 1332.7h19.5M701.6 1338.3h19.5M736.4 1332.7V1338.3M726.7 1332.7h19.5M726.7 1338.3h19.5M761.5 1332.7V1338.3M751.7 1332.7h19.5M751.7 1338.3h19.5M786.5 1332.7V1338.3M776.8 1332.7h19.5M776.8 1338.3h19.5M811.6 1332.7V1338.3M801.8 1332.7h19.5M801.8 1338.3h19.5M836.7 1332.7V1338.3M826.9 1332.7h19.5M826.9 1338.3h19.5M861.7 1332.7V1338.3M852 1332.7h19.5M852 1338.3h19.5M886.8 1332.7V1338.3M877 1332.7h19.5M877 1338.3h19.5M911.8 1332.7V1338.3M902.1 1332.7h19.5M902.1 1338.3h19.5M936.9 1332.7V1338.3M927.1 1332.7h19.5M927.1 1338.3h19.5M962 1332.7V1338.3M952.2 1332.7h19.5M952.2 1338.3h19.5M987 1332.7V1338.3M977.3 1332.7h19.5M977.3 1338.3h19.5M1012.1 1332.7V1338.3M1002.3 1332.7h19.5M1002.3 1338.3h19.5M1037.1 1332.7V1338.3M1027.4 1332.7h19.5M1027.4 1338.3h19.5M1062.2 1332.7V1338.3M1052.4 1332.7h19.5M1052.4 1338.3h19.5M1087.3 1332.7V1338.3M1077.5 1332.7h19.5M1077.5 1338.3h19.5M1112.3 1332.7V1338.3M1102.6 1332.7h19.5M1102.6 1338.3h19.5M1137.4 1332.7V1338.3M1127.6 1332.7h19.5M1127.6 1338.3h19.5M1162.4 1332.7V1338.3M1152.7 1332.7h19.5M1152.7 1338.3h19.5M1187.5 1332.7V1338.3M1177.8 1332.7h19.5M1177.8 1338.3h19.5M1212.6 1332.7V1338.3M1202.8 1332.7h19.5M1202.8 1338.3h19.5M1237.6 1332.7V1338.3M1227.9 1332.7h19.5M1227.9 1338.3h19.5M1262.7 1332.7V1338.3M1252.9 1332.7h19.5M1252.9 1338.3h19.5M1287.7 1332.7V1338.3M1278 1332.7h19.5M1278 1338.3h19.5M1312.8 1332.7V1338.3M1303 1332.7h19.5M1303 1338.3h19.5M1337.9 1332.7V1338.3M1328.1 1332.7h19.5M1328.1 1338.3h19.5M1362.9 1332.7V1338.3M1353.2 1332.7h19.5M1353.2 1338.3h19.5M1388 1332.7V1338.3M1378.2 1332.7h19.5M1378.2 1338.3h19.5M1413 1332.7V1338.3M1403.3 1332.7h19.5M1403.3 1338.3h19.5M1438.1 1332.7V1338.3M1428.3 1332.7h19.5M1428.3 1338.3h19.5M1463.2 1332.7V1338.3M1453.4 1332.7h19.5M1453.4 1338.3h19.5M1488.2 1332.7V1338.3M1478.5 1332.7h19.5M1478.5 1338.3h19.5M1513.3 1332.7V1338.3M1503.5 1332.7h19.5M1503.5 1338.3h19.5M1538.3 1332.7V1338.3M1528.6 1332.7h19.5M1528.6 1338.3h19.5M1563.4 1332.7V1338.3M1553.7 1332.7h19.5M1553.7 1338.3h19.5M1588.5 1332.7V1338.3M1578.7 1332.7h19.5M1578.7 1338.3h19.5M1613.5 1332.7V1338.3M1603.8 1332.7h19.5M1603.8 1338.3h19.5M1638.6 1332.7V1338.3M1628.8 1332.7h19.5M1628.8 1338.3h19.5M1663.6 1332.7V1338.3M1653.9 1332.7h19.5M1653.9 1338.3h19.5M1688.7 1332.7V1338.3M1678.9 1332.7h19.5M1678.9 1338.3h19.5M1713.8 1332.7V1338.3M1704 1332.7h19.5M1704 1338.3h19.5M1738.8 1332.7V1338.3M1729.1 1332.7h19.5M1729.1 1338.3h19.5M1763.9 1332.7V1338.3M1754.1 1332.7h19.5M1754.1 1338.3h19.5M1788.9 1332.7V1338.3M1779.2 1332.7h19.5M1779.2 1338.3h19.5M1814 1332.7V1338.3M1804.2 1332.7h19.5M1804.2 1338.3h19.5" fill="none" stroke="#2a3030" stroke-width="2.8"/>
</g>
<path d="M1815.6 458.6V1352.7" stroke="#000" stroke-width="13.4" stroke-dasharray="65.8 60.9" fill="none"/>
<path d="M430.1 123h25.3v24.6h-25.3z" fill="#00d87c" fill-opacity="1"/>
<path d="M428 248.5a13.5 13.5 0 1 0 27 0a13.5 13.5 0 1 0 -27 0z" fill="#0097c4" fill-opacity="1"/>
<path d="M442.9 343.9L458.2 370.9L427.6 370.9z" fill="#ff4343" fill-opacity="0.85"/>
<path d="M441.6 493.9L457.6 466.7L425.6 466.7z" fill="#ffac48" fill-opacity="0.85"/>
<path d="M442.9 573.6L460.2 591L442.9 608.4L425.6 591z" fill="#232323" fill-opacity="0.73"/>
<text transform="translate(267 1359.8) scale(1 1.035)" font-size="79.4" text-anchor="end" font-family="'Liberation Sans', sans-serif" font-weight="700" fill="#000">0</text>
<text transform="translate(267 1243.6) scale(1 1.035)" font-size="79.4" text-anchor="end" font-family="'Liberation Sans', sans-serif" font-weight="700" fill="#000">10</text>
<text transform="translate(267 1127.5) scale(1 1.035)" font-size="79.4" text-anchor="end" font-family="'Liberation Sans', sans-serif" font-weight="700" fill="#000">20</text>
<text transform="translate(267 1011.3) scale(1 1.035)" font-size="79.4" text-anchor="end" font-family="'Liberation Sans', sans-serif" font-weight="700" fill="#000">30</text>
<text transform="translate(267 895.1) scale(1 1.035)" font-size="79.4" text-anchor="end" font-family="'Liberation Sans', sans-serif" font-weight="700" fill="#000">40</text>
<text transform="translate(267 778.9) scale(1 1.035)" font-size="79.4" text-anchor="end" font-family="'Liberation Sans', sans-serif" font-weight="700" fill="#000">50</text>
<text transform="translate(267 662.8) scale(1 1.035)" font-size="79.4" text-anchor="end" font-family="'Liberation Sans', sans-serif" font-weight="700" fill="#000">60</text>
<text transform="translate(267 546.6) scale(1 1.035)" font-size="79.4" text-anchor="end" font-family="'Liberation Sans', sans-serif" font-weight="700" fill="#000">70</text>
<text transform="translate(267 430.4) scale(1 1.035)" font-size="79.4" text-anchor="end" font-family="'Liberation Sans', sans-serif" font-weight="700" fill="#000">80</text>
<text transform="translate(267 314.3) scale(1 1.035)" font-size="79.4" text-anchor="end" font-family="'Liberation Sans', sans-serif" font-weight="700" fill="#000">90</text>
<text transform="translate(267 198.1) scale(1 1.035)" font-size="79.4" text-anchor="end" font-family="'Liberation Sans', sans-serif" font-weight="700" fill="#000">100</text>
<text transform="translate(267 81.9) scale(1 1.035)" font-size="79.4" text-anchor="end" font-family="'Liberation Sans', sans-serif" font-weight="700" fill="#000">110</text>
<text transform="translate(309.9 1464.2) scale(1 1.035)" font-size="79.4" text-anchor="middle" font-family="'Liberation Sans', sans-serif" font-weight="700" fill="#000">0</text>
<text transform="translate(560.5 1464.2) scale(1 1.035)" font-size="79.4" text-anchor="middle" font-family="'Liberation Sans', sans-serif" font-weight="700" fill="#000">50</text>
<text transform="translate(811.1 1464.2) scale(1 1.035)" font-size="79.4" text-anchor="middle" font-family="'Liberation Sans', sans-serif" font-weight="700" fill="#000">100</text>
<text transform="translate(1061.7 1464.2) scale(1 1.035)" font-size="79.4" text-anchor="middle" font-family="'Liberation Sans', sans-serif" font-weight="700" fill="#000">150</text>
<text transform="translate(1312.3 1464.2) scale(1 1.035)" font-size="79.4" text-anchor="middle" font-family="'Liberation Sans', sans-serif" font-weight="700" fill="#000">200</text>
<text transform="translate(1562.9 1464.2) scale(1 1.035)" font-size="79.4" text-anchor="middle" font-family="'Liberation Sans', sans-serif" font-weight="700" fill="#000">250</text>
<text transform="translate(1813.5 1464.2) scale(1 1.035)" font-size="79.4" text-anchor="middle" font-family="'Liberation Sans', sans-serif" font-weight="700" fill="#000">300</text>
<text transform="translate(1974 1464.2) scale(1 1.035)" font-size="79.4" text-anchor="middle" font-family="'Liberation Sans', sans-serif" font-weight="700" fill="#000">420</text>
<text transform="translate(1185.4 1598.3) scale(1 1.025)" font-size="106.8" text-anchor="middle" font-family="'Liberation Sans', sans-serif" font-weight="700" fill="#000">Time (s)</text>
<text transform="translate(121.8 709) rotate(-90) scale(1 1.025)" font-size="106.5" text-anchor="middle" font-family="'Liberation Sans', sans-serif" font-weight="700" fill="#000">Chloride Efflux (%)</text>
<text transform="translate(571.5 166.9) scale(1 1.017)" font-size="88" text-anchor="start" font-family="'Liberation Sans', sans-serif" font-weight="700" fill="#000">Receptor 1</text>
<text transform="translate(571.5 281) scale(1 1.017)" font-size="88" text-anchor="start" font-family="'Liberation Sans', sans-serif" font-weight="700" fill="#000">Receptor 2</text>
<text transform="translate(571.5 395.7) scale(1 1.017)" font-size="88" text-anchor="start" font-family="'Liberation Sans', sans-serif" font-weight="700" fill="#000">Receptor 3</text>
<text transform="translate(571.5 508.7) scale(1 1.017)" font-size="88" text-anchor="start" font-family="'Liberation Sans', sans-serif" font-weight="700" fill="#000">Receptor 4</text>
<text transform="translate(571.5 621.6) scale(1 1.017)" font-size="88" text-anchor="start" font-family="'Liberation Sans', sans-serif" font-weight="700" fill="#000">DMSO</text>
<text transform="translate(1708.3 121) scale(1 1.035)" font-size="67.2" text-anchor="middle" font-family="'Liberation Sans', sans-serif" font-weight="700" fill="#000">100 % Chloride Efflux</text>
<text transform="translate(1707.8 206.8) scale(1 1.035)" font-size="67.2" text-anchor="middle" font-family="'Liberation Sans', sans-serif" font-weight="700" fill="#000">at t = 420 s</text>
<text transform="translate(1783.7 333.2) scale(1 1.035)" font-size="67.2" text-anchor="middle" font-family="'Liberation Sans', sans-serif" font-weight="700" fill="#000">Detergent Added</text>
<text transform="translate(1791.2 419.4) scale(1 1.035)" font-size="67.2" text-anchor="middle" font-family="'Liberation Sans', sans-serif" font-weight="700" fill="#000">at t = 300 s</text>
</svg>
</body>
</html>
